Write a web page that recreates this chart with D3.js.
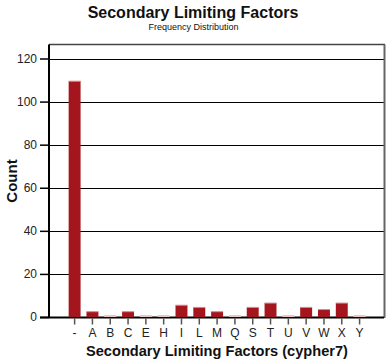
<!DOCTYPE html>
<html><head><meta charset="utf-8">
<script src="https://cdn.jsdelivr.net/npm/d3@7"></script>
<style>
html,body{margin:0;padding:0;background:#fff;}
svg{display:block;font-family:"Liberation Sans",Arial,sans-serif;}
</style></head>
<body><svg id="c" width="391" height="364"></svg>
<script>
const categories = ["-","A","B","C","E","H","I","L","M","Q","S","T","U","V","W","X","Y"];
const counts     = [109,2,0,2,0,0,5,4,2,0,4,6,0,4,3,6,0];
const yTicks     = [0,20,40,60,80,100,120];

(function(){
const svg = d3.select("#c");
const pL = 49, pR = 384, pT = 44.5, pB = 317;
const y = d3.scaleLinear().domain([0,126.5]).range([pB, pT]);
const x = d3.scaleBand().domain(categories).range([65.8, 368.4]).paddingInner(0.33).paddingOuter(0.16);

// grid lines
svg.append("g").selectAll("line").data(yTicks.filter(d=>d>0)).join("line")
  .attr("x1", pL).attr("x2", pR)
  .attr("y1", d=>Math.round(y(d))+0.5).attr("y2", d=>Math.round(y(d))+0.5)
  .attr("stroke","#000").attr("stroke-width",1);

// plot border (top / right)
svg.append("line").attr("x1",pL).attr("x2",pR+1).attr("y1",pT).attr("y2",pT)
  .attr("stroke","#444").attr("stroke-width",1.5);
svg.append("line").attr("x1",pR+0.5).attr("x2",pR+0.5).attr("y1",pT).attr("y2",pB+1)
  .attr("stroke","#666").attr("stroke-width",2);

// baseline
svg.append("line").attr("x1",40).attr("x2",pR).attr("y1",pB+0.5).attr("y2",pB+0.5)
  .attr("stroke","#000").attr("stroke-width",2);

// bars
const bars = svg.append("g");
bars.selectAll("rect.bar").data(categories).join("rect").attr("class","bar")
  .attr("x", d=>x(d)).attr("width", x.bandwidth())
  .attr("y", (d,i)=>y(counts[i])-1)
  .attr("height", (d,i)=>Math.max(0, pB - y(counts[i]))+1)
  .attr("fill", (d,i)=>counts[i]>0 ? "#a5151d" : "#fff");
bars.selectAll("rect.hl").data(categories).join("rect").attr("class","hl")
  .attr("x", d=>x(d)).attr("width", x.bandwidth())
  .attr("y", (d,i)=>y(counts[i])-1.5).attr("height", 1)
  .attr("fill", "#d98a8e");

// y axis
const yAxis = d3.axisLeft(y).tickValues(yTicks).tickSize(9).tickPadding(3);
const gy = svg.append("g").attr("transform",`translate(${pL},0)`).call(yAxis);
gy.select(".domain").attr("stroke","#000").attr("stroke-width",2).attr("d",`M0,${pT}V${pB+1}`);
gy.selectAll(".tick line").attr("stroke","#000").attr("stroke-width",1.5);
gy.selectAll(".tick text").attr("font-size",12).attr("fill","#222")
  .attr("font-family","Liberation Sans, Arial, sans-serif");

// x axis
const xAxis = d3.axisBottom(x).tickSize(6).tickPadding(4);
const gx = svg.append("g").attr("transform",`translate(0,${pB+1.5})`).call(xAxis);
gx.select(".domain").remove();
gx.selectAll(".tick line").attr("stroke","#555").attr("stroke-width",1.5);
gx.selectAll(".tick text").attr("font-size",12).attr("fill","#222")
  .attr("font-family","Liberation Sans, Arial, sans-serif");

// titles
svg.append("text").attr("x",193).attr("y",17.5).attr("text-anchor","middle")
  .attr("font-size",16).attr("font-weight","bold").attr("fill","#111").text("Secondary Limiting Factors");
svg.append("text").attr("x",193.5).attr("y",29.5).attr("text-anchor","middle")
  .attr("font-size",9).attr("fill","#111").text("Frequency Distribution");
svg.append("text").attr("x",217).attr("y",355.5).attr("text-anchor","middle")
  .attr("font-size",14.6).attr("font-weight","bold").attr("fill","#111").text("Secondary Limiting Factors (cypher7)");
svg.append("text").attr("transform","translate(17,181) rotate(-90)").attr("text-anchor","middle")
  .attr("font-size",15).attr("font-weight","bold").attr("fill","#111").text("Count");
})();
</script></body></html>
